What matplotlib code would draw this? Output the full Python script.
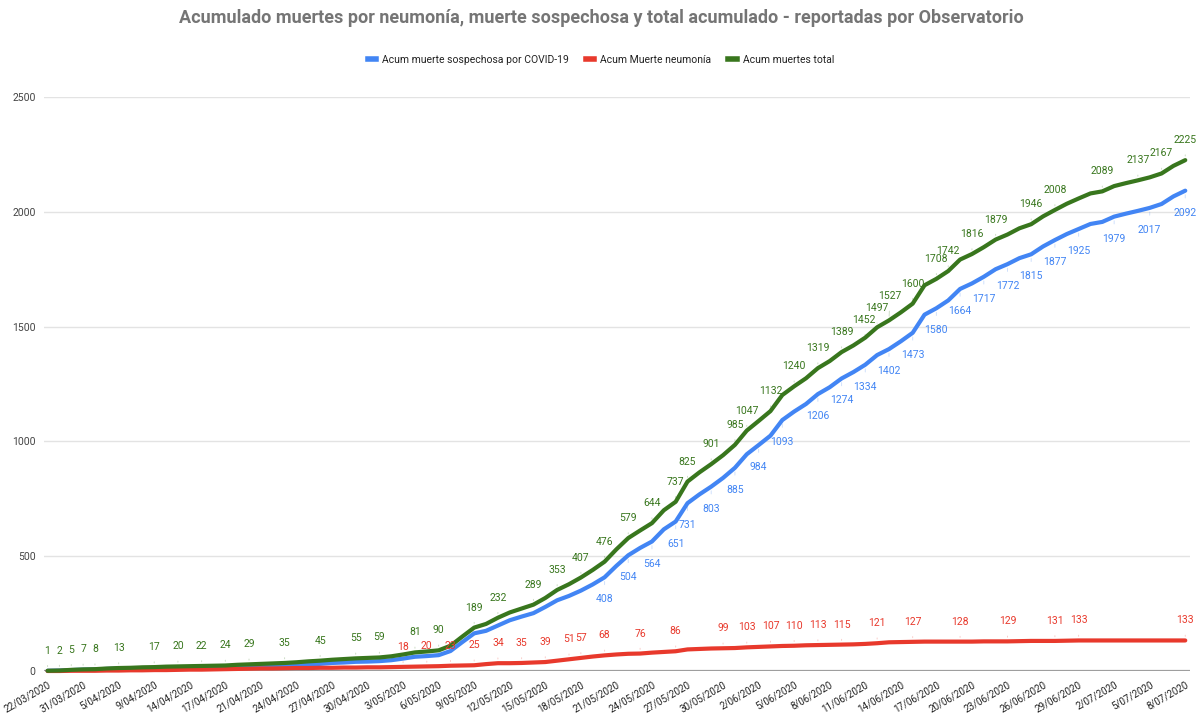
import matplotlib
matplotlib.use("Agg")
import matplotlib.pyplot as plt
from matplotlib.lines import Line2D
import pandas as pd

plt.rcParams["font.family"] = ["Roboto", "DejaVu Sans"]

# ── Data ──────────────────────────────────────────────────────────────────────
early_dates = ["22/03/2020", "25/03/2020", "28/03/2020", "31/03/2020", "2/04/2020",
               "4/04/2020", "5/04/2020", "7/04/2020", "8/04/2020", "9/04/2020",
               "11/04/2020", "13/04/2020", "14/04/2020", "15/04/2020", "16/04/2020",
               "17/04/2020", "18/04/2020", "20/04/2020"]
daily = pd.date_range("2020-04-21", "2020-07-08")
dates = early_dates + [f"{d.day}/{d.month:02d}/{d.year}" for d in daily]

sospechosa = [1, 2, 4, 6, 7, 9, 11, 11, 13, 13,
              15, 15, 15, 16, 16, 16, 18, 19, 20, 22,
              23, 25, 29, 31, 35, 37, 40, 41, 43, 47,
              54, 62, 65, 69, 87, 126, 164, 175, 198, 221,
              237, 252, 279, 308, 327, 350, 377, 408, 458, 504,
              536, 564, 617, 651, 731, 769, 803, 841, 885, 944,
              984, 1025, 1093, 1130, 1163, 1206, 1236, 1274, 1302, 1334,
              1376, 1402, 1436, 1473, 1552, 1580, 1614, 1664, 1688, 1717,
              1750, 1772, 1798, 1815, 1849, 1877, 1903, 1925, 1947, 1956,
              1979, 1992, 2004, 2017, 2034, 2067, 2092]

neumonia = [0, 0, 1, 1, 1, 2, 2, 3, 3, 4,
            4, 5, 6, 6, 7, 8, 9, 10, 11, 11,
            12, 13, 13, 14, 14, 15, 15, 16, 16, 17,
            18, 19, 20, 21, 23, 24, 25, 30, 34, 34,
            35, 37, 39, 45, 51, 57, 63, 68, 72, 75,
            76, 80, 83, 86, 94, 96, 98, 99, 100, 103,
            105, 107, 109, 110, 112, 113, 114, 115, 116, 118,
            121, 125, 126, 127, 128, 128, 128, 128, 128, 129,
            129, 129, 130, 131, 131, 131, 132, 133, 133, 133,
            133, 133, 133, 133, 133, 133, 133]

total = [1, 2, 5, 7, 8, 11, 13, 14, 16, 17,
         19, 20, 21, 22, 23, 24, 27, 29, 31, 33,
         35, 38, 42, 45, 49, 52, 55, 57, 59, 64,
         72, 81, 85, 90, 110, 150, 189, 205, 232, 255,
         272, 289, 318, 353, 378, 407, 440, 476, 530, 579,
         612, 644, 700, 737, 825, 865, 901, 940, 985, 1047,
         1089, 1132, 1202, 1240, 1275, 1319, 1350, 1389, 1418, 1452,
         1497, 1527, 1562, 1600, 1680, 1708, 1742, 1792, 1816, 1846,
         1879, 1901, 1928, 1946, 1980, 2008, 2035, 2058, 2080, 2089,
         2112, 2125, 2137, 2150, 2167, 2200, 2225]

# indices of the points that carry a data label
lbl_sospechosa = [47, 49, 51, 53, 54, 56, 58, 60, 62, 65, 67, 69, 71, 73, 75,
                  77, 79, 81, 83, 85, 87, 90, 93, 96]
lbl_neumonia = [30, 32, 34, 36, 38, 40, 42, 44, 45, 47, 50, 53, 57, 59, 61, 63,
                65, 67, 70, 73, 77, 81, 85, 87, 96]
lbl_total = [0, 1, 2, 3, 4, 6, 9, 11, 13, 15, 17, 20, 23, 26, 28, 31, 33, 36,
             38, 41, 43, 45, 47, 49, 51, 53, 54, 56, 58, 59, 61, 63, 65, 67, 69,
             70, 71, 73, 75, 76, 78, 80, 83, 85, 89, 92, 94, 96]

series_names = ["Acum muerte sospechosa por COVID-19", "Acum Muerte neumonía",
                "Acum muertes total"]
colors = ["#4285f4", "#e8392c", "#38761d"]

# ── Figure ────────────────────────────────────────────────────────────────────
W, H = 1202, 713
fig = plt.figure(figsize=(W / 100, H / 100), dpi=100)
ax = fig.add_axes([44 / W, (H - 671) / H, (1190 - 44) / W, (671 - 97) / H])

x = list(range(len(dates)))
for vals, col in zip([sospechosa, neumonia, total], colors):
    ax.plot(x, vals, color=col, lw=3, solid_capstyle="round",
            solid_joinstyle="round", clip_on=False, zorder=3)


def add_labels(vals, idxs, col, dy, nudge=None):
    # nudge: {index: (dx, dy)} extra pixel offset for crowded labels
    nudge = nudge or {}
    for i in idxs:
        ndx, ndy = nudge.get(i, (0, 0))
        ax.annotate(str(vals[i]), xy=(i, vals[i]), xytext=(ndx, dy + ndy),
                    textcoords="offset pixels", ha="center", va="center",
                    fontsize=7.5, color=col, zorder=4,
                    arrowprops=dict(arrowstyle="-", color=col, alpha=0.25,
                                    lw=0.7, shrinkA=5, shrinkB=3))


add_labels(total, lbl_total, colors[2], 20,
           nudge={69: (-1, -2), 70: (0, -1), 71: (1, 4)})
add_labels(neumonia, lbl_neumonia, colors[1], 20)
add_labels(sospechosa, lbl_sospechosa, colors[0], -22)

ax.set_xlim(-0.3, 96.4)
ax.set_ylim(0, 2500)
ax.set_yticks([0, 500, 1000, 1500, 2000, 2500])
ax.grid(axis="y", color="#e3e3e3", lw=1)
ax.axhline(0, color="#9e9e9e", lw=1.6, zorder=2)
ax.set_axisbelow(True)
for s in ax.spines.values():
    s.set_visible(False)

ax.set_xticks(x[::3])
ax.set_xticklabels(dates[::3], rotation=30, ha="right", rotation_mode="anchor",
                   fontsize=7, color="#222222")
ax.tick_params(axis="x", length=0, pad=6)
ax.tick_params(axis="y", length=0, pad=6, labelsize=7.5, labelcolor="#444444")

fig.text(0.5, 1 - 18 / H,
         "Acumulado muertes por neumonía, muerte sospechosa y total acumulado - reportadas por Observatorio",
         ha="center", va="center", fontsize=13, fontweight="bold", color="#757575")

handles = [Line2D([0], [0], color=c, lw=4) for c in colors]
fig.legend(handles, series_names, loc="center", bbox_to_anchor=(0.5, 1 - 60 / H),
           ncol=3, frameon=False, fontsize=7.5, handlelength=0.8,
           handletextpad=0.6, columnspacing=1.6, labelcolor="#222222")

fig.savefig("out.png", dpi=100)
